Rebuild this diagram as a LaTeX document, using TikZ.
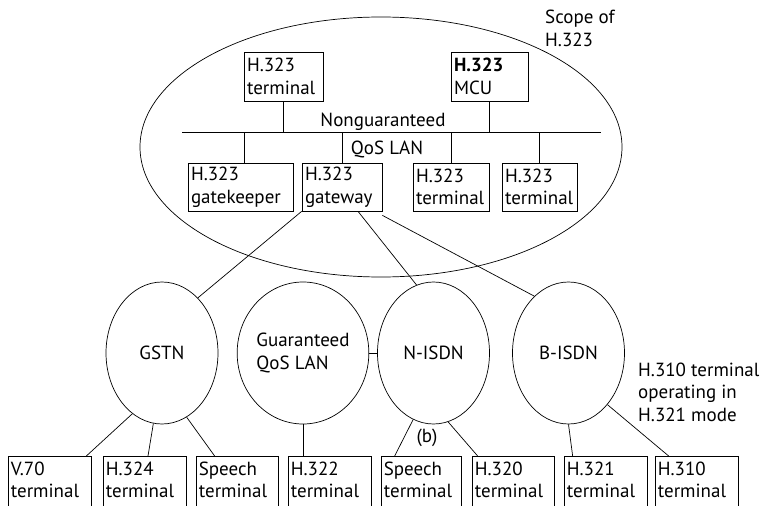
\documentclass[tikz,border=0pt]{standalone}
\usepackage{fontspec}
\setmainfont{PT Sans}
\usetikzlibrary{shapes.geometric}
\begin{document}
\begin{tikzpicture}[x=1pt,y=-1pt,
  lw/.style={line width=0.7pt},
  tfont/.style={font=\fontsize{19}{22.5}\selectfont},
  tbox/.style={draw,lw,inner xsep=3pt,inner ysep=2pt,align=left,tfont},
  bbox/.style={draw,lw,inner sep=0pt,anchor=north},
  btxt/.style={inner xsep=3pt,inner ysep=5.5pt,anchor=north west,align=left,tfont},
  net/.style={draw,lw,ellipse,inner sep=0pt,minimum width=112pt,minimum height=142pt,align=left,tfont},
  lbl/.style={align=left,tfont,inner sep=0pt}
]
\useasboundingbox (0,0) rectangle (769,506);
\clip (0,0) rectangle (769,506);
% scope ellipse
\node[draw,lw,ellipse,minimum width=482pt,minimum height=260pt] (scope) at (381,147) {};
\node[lbl,anchor=north west] (scopelbl) at (545,10) {Scope of\\H.323};
% top boxes
\node[tbox,text width=73pt,minimum height=49pt] (t1) at (283.5,76.5) {H.323\\terminal};
\node[tbox,text width=71pt,minimum height=49pt] (mcu) at (489.5,76.5) {\textbf{H.323}\\MCU};
% bus
\coordinate (busL) at (182,132);
\coordinate (busR) at (601,132);
\draw[lw] (busL) -- (busR);
\node[lbl] (nong) at (383,122) {Nonguaranteed};
\node[lbl] (qos) at (387,149) {QoS LAN};
% lower boxes
\node[tbox,text width=99pt,minimum height=48pt] (gk) at (240.5,187) {H.323\\gatekeeper};
\node[tbox,text width=74pt,minimum height=48pt] (gw) at (342,187) {H.323\\gateway};
\node[tbox,text width=70pt,minimum height=48pt] (t3) at (451,187) {H.323\\terminal};
\node[tbox,text width=69pt,minimum height=48pt] (t4) at (539.5,187) {H.323\\terminal};
% bus drops
\draw[lw] (t1.south) -- (t1.south |- busL);
\draw[lw] (mcu.south) -- (mcu.south |- busL);
\draw[lw] ([xshift=3.5pt]gk.north) -- ([xshift=3.5pt]gk.north |- busL);
\draw[lw] (gw.north) -- (gw.north |- busL);
\draw[lw] (t3.north) -- (t3.north |- busL);
\draw[lw] (t4.north) -- (t4.north |- busL);
% networks
\node[net] (gstn) at (162,353) {GSTN};
\node[net] (gq) at (303,353) {Guaranteed\\QoS LAN};
\node[net] (nisdn) at (433.5,353) {N-ISDN};
\node[net] (bisdn) at (568.5,353) {B-ISDN};
\draw[lw] (gq.east) -- (nisdn.west);
% gateway links
\draw[lw] (gw.south west) -- (gstn.57);
\draw[lw] ([xshift=16pt]gw.south) -- (nisdn.104);
\draw[lw] ([yshift=-4pt]gw.south east) -- (bisdn.121);
% bottom boxes
\foreach \n/\x/\w/\a/\b in {v70/8/83/V.70/terminal, h324/103/83/H.324/terminal, sp1/196/82/Speech/terminal, h322/288/83/H.322/terminal, sp2/381/80/Speech/terminal, h320/472/82/H.320/terminal, h321/564/83/H.321/terminal, h310/655/83/H.310/terminal}{
  \node[bbox,minimum width=\w pt,minimum height=70pt] (\n) at (\x+\w/2,456) {};
  \node[btxt] (\n t) at (\n.north west) {\a\\\b};
}
% bottom links
\draw[lw] (gstn.-116) -- ([xshift=-5pt]v70.north east);
\draw[lw] (gstn.-97) -- ([xshift=3.5pt]h324.north);
\draw[lw] (gstn.-69) -- ([xshift=19pt]sp1.north west);
\draw[lw] (gq.south) -- (gq.south |- h322.north);
\draw[lw] (nisdn.-107) -- ([xshift=14pt]sp2.north west);
\draw[lw] (nisdn.-78) -- ([xshift=6pt]h320.north west);
\draw[lw] (bisdn.south) -- ([xshift=9pt]h321.north west);
\draw[lw] (bisdn.-53) -- ([xshift=14pt]h310.north west);
\node[lbl] (b) at (427,438) {(b)};
\node[lbl,anchor=west] (h310lbl) at (638,392) {H.310 terminal\\operating in\\H.321 mode};
\end{tikzpicture}
\end{document}
